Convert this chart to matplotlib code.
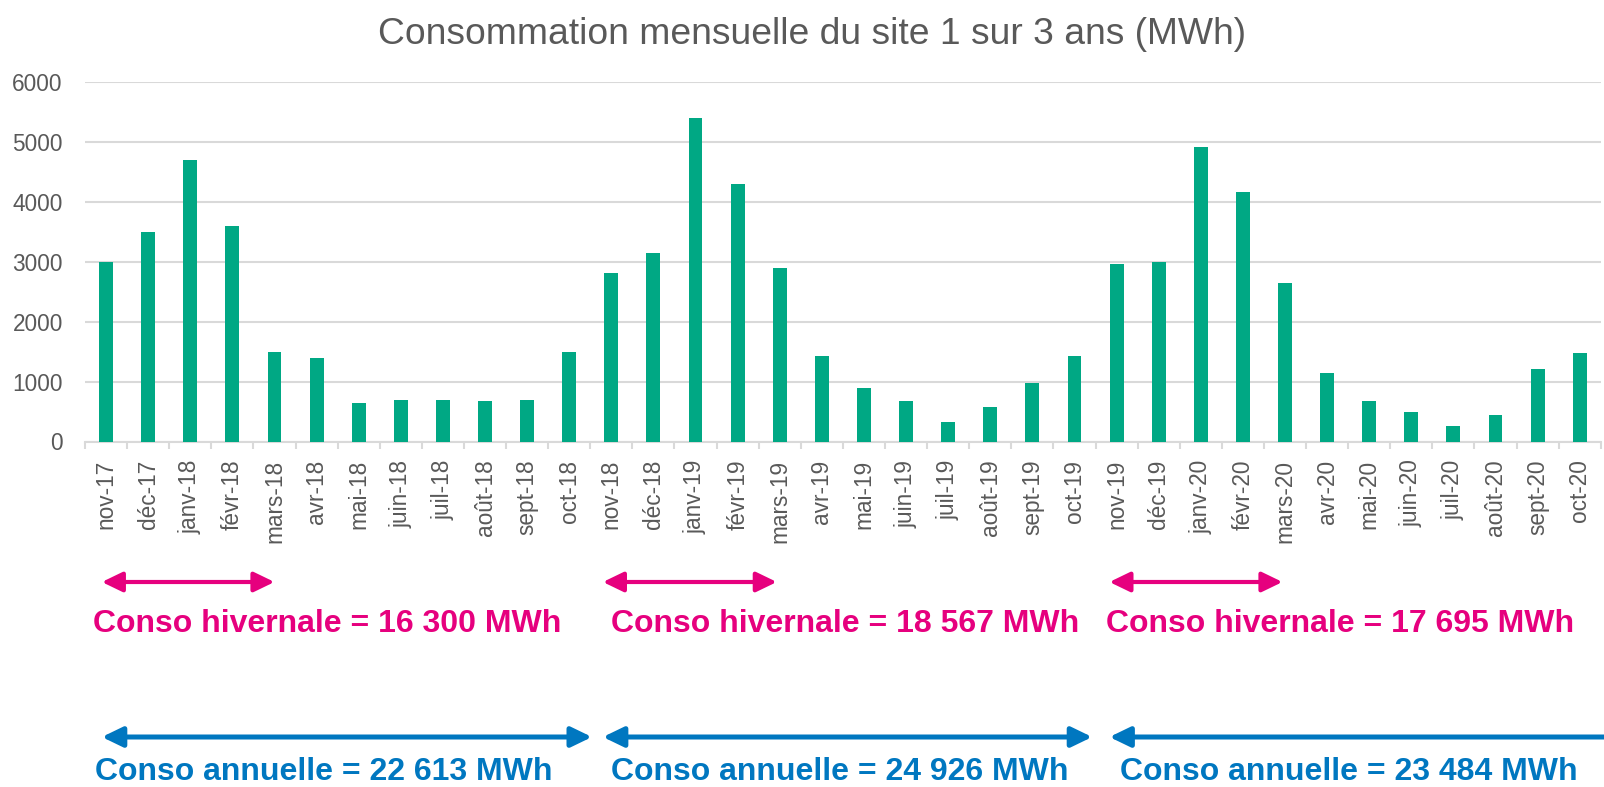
import numpy as np
import matplotlib.pyplot as plt

plt.rcParams['font.family'] = ['Liberation Sans', 'DejaVu Sans']

# monthly consumption, MWh
mois = ['nov-17', 'déc-17', 'janv-18', 'févr-18', 'mars-18', 'avr-18',
        'mai-18', 'juin-18', 'juil-18', 'août-18', 'sept-18', 'oct-18',
        'nov-18', 'déc-18', 'janv-19', 'févr-19', 'mars-19', 'avr-19',
        'mai-19', 'juin-19', 'juil-19', 'août-19', 'sept-19', 'oct-19',
        'nov-19', 'déc-19', 'janv-20', 'févr-20', 'mars-20', 'avr-20',
        'mai-20', 'juin-20', 'juil-20', 'août-20', 'sept-20', 'oct-20']
conso = [3000, 3500, 4700, 3600, 1500, 1400, 650, 700, 690, 680, 690, 1500,
         2820, 3140, 5400, 4300, 2890, 1430, 900, 670, 330, 570, 975, 1425,
         2970, 2990, 4910, 4170, 2640, 1150, 680, 495, 260, 435, 1215, 1480]

hiver_labels = ['Conso hivernale = 16 300 MWh', 'Conso hivernale = 18 567 MWh',
                'Conso hivernale = 17 695 MWh']
annee_labels = ['Conso annuelle = 22 613 MWh', 'Conso annuelle = 24 926 MWh',
                'Conso annuelle = 23 484 MWh']

green = '#00A884'
pink = '#E6007E'
blue = '#0077C0'
grey = '#595959'

fig = plt.figure(figsize=(16.04, 7.87), dpi=100)
ax = fig.add_axes([0.053, 1 - 441.5 / 787, 0.945, (441.5 - 82) / 787])

x = np.arange(len(mois))
ax.bar(x, conso, width=0.33, color=green, zorder=3)

ax.set_xlim(-0.5, len(mois) - 0.5)
ax.set_ylim(0, 6000)
ax.set_yticks(np.arange(0, 6001, 1000))
ax.yaxis.grid(True, color='#D9D9D9', lw=1.5, zorder=0)
ax.set_xticks(x)
ax.set_xticklabels(mois, rotation=90)
ax.set_xticks(np.arange(-0.5, len(mois)), minor=True)
ax.tick_params(axis='x', which='major', length=0, pad=13, labelsize=16.3, labelcolor=grey)
ax.tick_params(axis='x', which='minor', length=5, width=1.5, color='#D9D9D9')
ax.tick_params(axis='y', length=0, pad=16, labelsize=16.3, labelcolor=grey)
for s in ['top', 'right', 'left']:
    ax.spines[s].set_visible(False)
ax.spines['bottom'].set_color('#D9D9D9')
ax.spines['bottom'].set_linewidth(1.5)

fig.text(0.506, 0.956, 'Consommation mensuelle du site 1 sur 3 ans (MWh)',
         ha='center', va='center', fontsize=26.8, color=grey)

# arrows and totals below the axis
hiver_x = [(-0.1, 4.0), (11.8, 15.93), (23.83, 27.94)]
annee_x = [(-0.1, 11.54), (11.8, 23.42), (23.83, 36.2)]
hiver_txt_x = [-0.3, 12.0, 23.76]
annee_txt_x = [-0.27, 12.0, 24.08]

def arrow(x0, x1, y, color, lw):
    ax.annotate('', xy=(x1, y), xytext=(x0, y),
                xycoords=('data', 'figure fraction'),
                textcoords=('data', 'figure fraction'),
                annotation_clip=False,
                arrowprops=dict(arrowstyle='<|-|>,head_length=0.62,head_width=0.3',
                                mutation_scale=20, lw=lw, color=color,
                                shrinkA=0, shrinkB=0))

for (x0, x1), tx, lab in zip(hiver_x, hiver_txt_x, hiver_labels):
    arrow(x0, x1, 1 - 582 / 787, pink, 3.0)
    ax.annotate(lab, xy=(tx, 1 - 632 / 787), xycoords=('data', 'figure fraction'),
                ha='left', va='baseline', fontsize=23, fontweight='bold',
                color=pink, annotation_clip=False)

for (x0, x1), tx, lab in zip(annee_x, annee_txt_x, annee_labels):
    arrow(x0, x1, 1 - 737 / 787, blue, 3.6)
    ax.annotate(lab, xy=(tx, 1 - 780 / 787), xycoords=('data', 'figure fraction'),
                ha='left', va='baseline', fontsize=23, fontweight='bold',
                color=blue, annotation_clip=False)

fig.savefig('out.png', dpi=100)
